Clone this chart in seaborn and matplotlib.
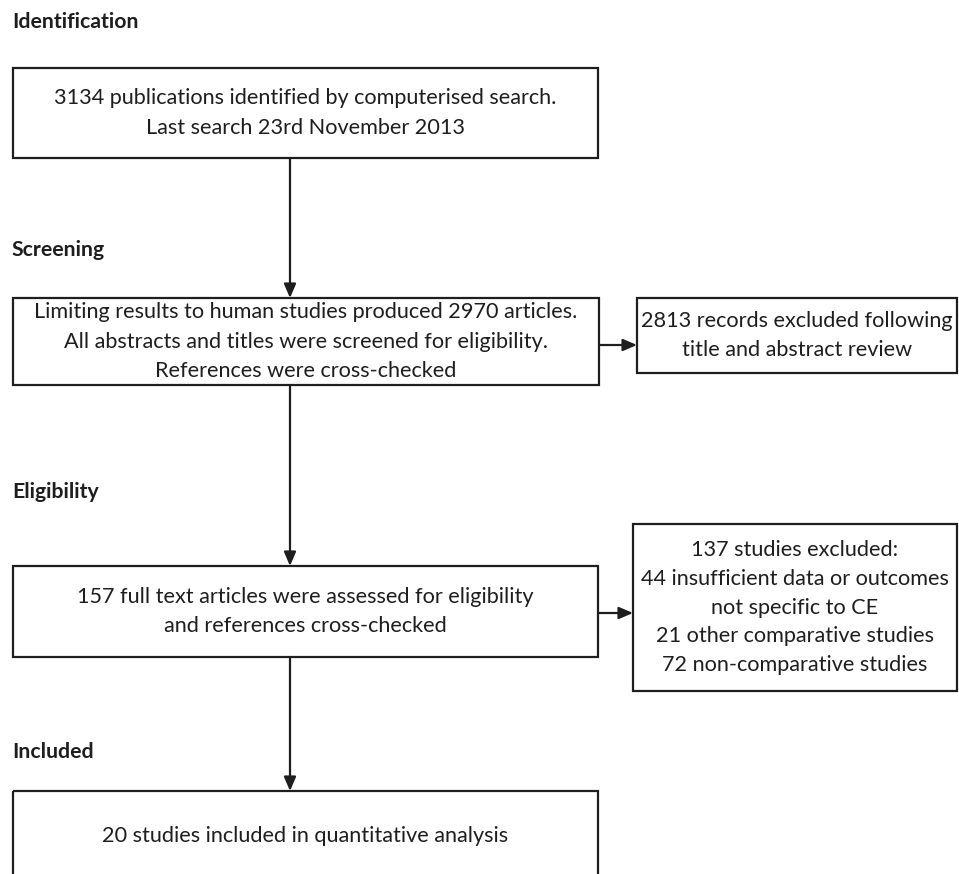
import matplotlib
matplotlib.use("Agg")
import matplotlib.pyplot as plt
from matplotlib.patches import Rectangle
import seaborn as sns

# ---- content ----
stage_labels = ["Identification", "Screening", "Eligibility", "Included"]
main_texts = [
    "3134 publications identified by computerised search.\nLast search 23rd November 2013",
    "Limiting results to human studies produced 2970 articles.\nAll abstracts and titles were screened for eligibility.\nReferences were cross-checked",
    "157 full text articles were assessed for eligibility\nand references cross-checked",
    "20 studies included in quantitative analysis",
]
side_texts = [
    "2813 records excluded following\ntitle and abstract review",
    "137 studies excluded:\n44 insufficient data or outcomes\nnot specific to CE\n21 other comparative studies\n72 non-comparative studies",
]

sns.set_theme(style="white")
plt.rcParams["font.family"] = ["Lato", "DejaVu Sans"]

W, H = 959, 874
fig = plt.figure(figsize=(W / 100, H / 100), dpi=100)
ax = fig.add_axes([0, 0, 1, 1])
ax.set_xlim(0, W)
ax.set_ylim(H, 0)
ax.axis("off")

ink = "#1e1e1e"
lw = 1.6
fs = 15.6

# layout (pixels): x0, y0, x1, y1
main_boxes = [(13, 68, 598, 158), (13, 298, 599, 385), (13, 566, 598, 657), (13, 791, 598, 900)]
side_boxes = [(637, 298, 957, 373), (633, 524, 957, 691)]
stage_y = [22, 250, 492, 752]
cx = 290

def box(b):
    x0, y0, x1, y1 = b
    ax.add_patch(Rectangle((x0, y0), x1 - x0, y1 - y0, fill=False, ec=ink, lw=lw, clip_on=True))

for lab, y in zip(stage_labels, stage_y):
    ax.text(12, y, lab, fontsize=15.3, fontweight="bold", color=ink, va="center", ha="left")

for b, t in zip(main_boxes, main_texts):
    box(b)
    yc = 836 if b[3] > H else (b[1] + b[3]) / 2
    ax.text((b[0] + b[2]) / 2, yc, t, fontsize=fs, color=ink, ha="center", va="center",
            linespacing=1.62)

for b, t in zip(side_boxes, side_texts):
    box(b)
    ax.text((b[0] + b[2]) / 2, (b[1] + b[3]) / 2, t, fontsize=fs, color=ink, ha="center",
            va="center", linespacing=1.55)

arrow = dict(arrowstyle="-|>,head_length=0.7,head_width=0.3", color=ink, lw=lw,
             shrinkA=0, shrinkB=0)
# vertical connectors
for i in range(3):
    ax.annotate("", xy=(cx, main_boxes[i + 1][1]), xytext=(cx, main_boxes[i][3]), arrowprops=arrow)
# horizontal connectors
ax.annotate("", xy=(side_boxes[0][0], 345), xytext=(main_boxes[1][2], 345), arrowprops=arrow)
ax.annotate("", xy=(side_boxes[1][0], 613), xytext=(main_boxes[2][2], 613), arrowprops=arrow)

fig.savefig("out.png", dpi=100, facecolor="white")
